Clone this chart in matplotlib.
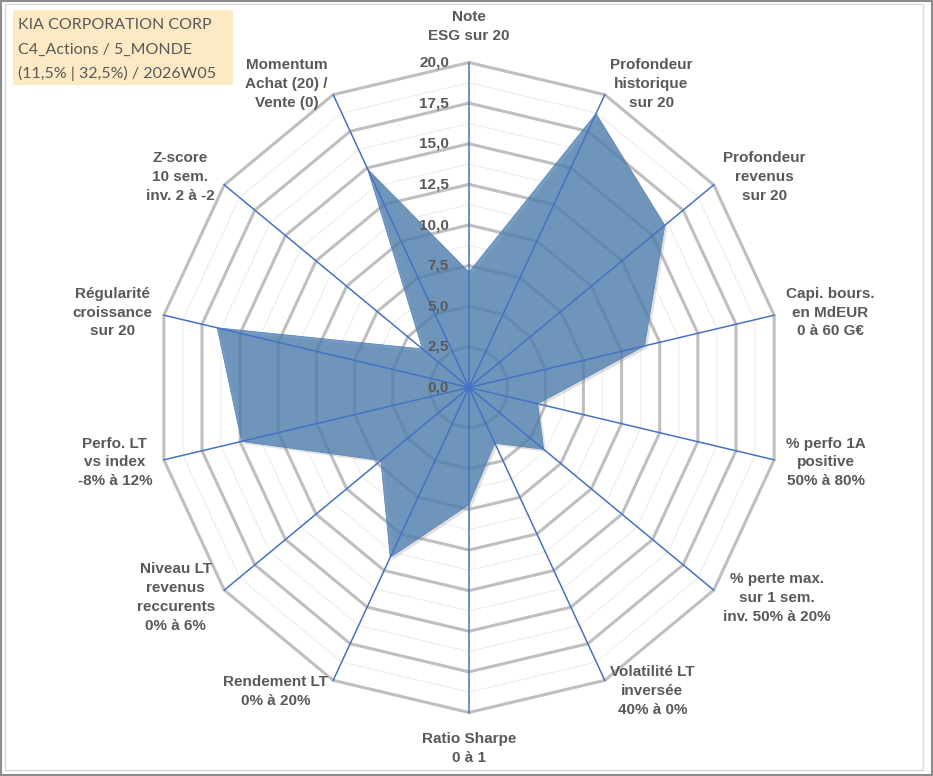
import numpy as np
import matplotlib
matplotlib.use("Agg")
import matplotlib.pyplot as plt
from matplotlib.patches import Polygon, Rectangle

# data (scale 0..20)
categories = [
    "Note\nESG sur 20",
    "Profondeur\nhistorique\nsur 20",
    "Profondeur\nrevenus\nsur 20",
    "Capi. bours.\nen MdEUR\n0 à 60 G€",
    "% perfo 1A\npositive\n50% à 80%",
    "% perte max.\nsur 1 sem.\ninv. 50% à 20%",
    "Volatilité LT\ninversée\n40% à 0%",
    "Ratio Sharpe\n0 à 1",
    "Rendement LT\n0% à 20%",
    "Niveau LT\nrevenus\nreccurents\n0% à 6%",
    "Perfo. LT\nvs index\n-8% à 12%",
    "Régularité\ncroissance\nsur 20",
    "Z-score\n10 sem.\ninv. 2 à -2",
    "Momentum\nAchat (20) /\nVente (0)",
]
values = [7.1, 18.7, 16.0, 11.5, 4.5, 6.1, 3.8, 7.2, 11.6, 7.2, 14.9, 16.5, 3.8, 14.9]
title_lines = ["KIA CORPORATION CORP", "C4_Actions / 5_MONDE", "(11,5% | 32,5%) / 2026W05"]
r_max = 20.0
r_major = 2.5

W, H = 933, 776
cx, cy = 469, 387.5        # centre in pixels (from top-left)
Sx, Sy = 15.65, 16.25      # pixels per unit (excel stretched it a bit)
txt_col = "#595959"
blue = "#4472C4"

fig = plt.figure(figsize=(W / 100, H / 100), dpi=100)
ax = fig.add_axes([0, 0, 1, 1])
ax.set_xlim(-cx / Sx, (W - cx) / Sx)
ax.set_ylim(-(H - cy) / Sy, cy / Sy)
ax.axis("off")

n = len(categories)
theta = 2 * np.pi * np.arange(n) / n
sx, sy = np.sin(theta), np.cos(theta)

# rings: minor every 1.25, major every 2.5
for r in np.arange(1.25, r_max + 0.01, 1.25):
    major = abs(r / r_major - round(r / r_major)) < 1e-6
    xs = np.append(r * sx, r * sx[0])
    ys = np.append(r * sy, r * sy[0])
    if major:
        ax.plot(xs, ys, color="#BFBFBF", lw=2.2, zorder=1, solid_joinstyle="miter")
    else:
        ax.plot(xs, ys, color="#EDEDED", lw=0.8, zorder=0.5)

# data polygon (+ a soft shadow like excel)
v = np.array(values)
pts = np.column_stack([v * sx, v * sy])
ax.add_patch(Polygon(pts + [2.5 / Sx, -2.5 / Sy], closed=True, facecolor="#808080",
                     alpha=0.25, edgecolor="none", zorder=1.5))
ax.add_patch(Polygon(pts, closed=True, facecolor="#4A7DB0", alpha=0.75,
                     edgecolor="none", zorder=2))
ax.add_patch(Polygon(pts, closed=True, facecolor="none", edgecolor="#5B86B8",
                     lw=0.6, zorder=3))

# spokes
for i in range(n):
    ax.plot([0, r_max * sx[i]], [0, r_max * sy[i]], color=blue, lw=1.1, zorder=4)

# radial tick labels
for r in np.arange(0, r_max + 0.01, r_major):
    ax.text(-20 / Sx, r, f"{r:.1f}".replace(".", ","), ha="right", va="center",
            fontsize=11, fontweight="bold", color=txt_col,
            family="Liberation Sans", zorder=5)

# category labels
for i, lab in enumerate(categories):
    gap = 20 if abs(sx[i]) < 0.1 else 12
    px = r_max * sx[i] + gap * sx[i] / Sx
    py = r_max * sy[i] + gap * sy[i] / Sy
    if sx[i] > 0.1:
        ha = "left"
    elif sx[i] < -0.1:
        ha = "right"
    else:
        ha = "center"
    if sy[i] > 0.95:
        va = "bottom"
    elif sy[i] < -0.95:
        va = "top"
    else:
        va = "center"
    ax.text(px, py, lab, ha=ha, va=va, multialignment="center",
            fontsize=11, fontweight="bold", color=txt_col,
            family="Liberation Sans", linespacing=1.45, zorder=5)

# title box
fig.patches.append(Rectangle((13 / W, 1 - 85 / H), 220 / W, 75 / H,
                             transform=fig.transFigure, facecolor="#FDEAC4",
                             edgecolor="none", zorder=0))
for k, line in enumerate(title_lines):
    fig.text(18 / W, 1 - (29 + 24.5 * k) / H, line, ha="left", va="baseline",
             fontsize=11.5, color=txt_col, family="Lato")

# chart frame
fig.patches.append(Rectangle((1 / W, 1 / H), (W - 2) / W, (H - 2) / H,
                             transform=fig.transFigure, facecolor="none",
                             edgecolor="#8C8C8C", lw=1.5))
fig.patches.append(Rectangle((5 / W, 6 / H), (W - 15) / W, (H - 10) / H,
                             transform=fig.transFigure, facecolor="none",
                             edgecolor="#D9D9D9", lw=1.0))

fig.savefig("out.png", dpi=100)
